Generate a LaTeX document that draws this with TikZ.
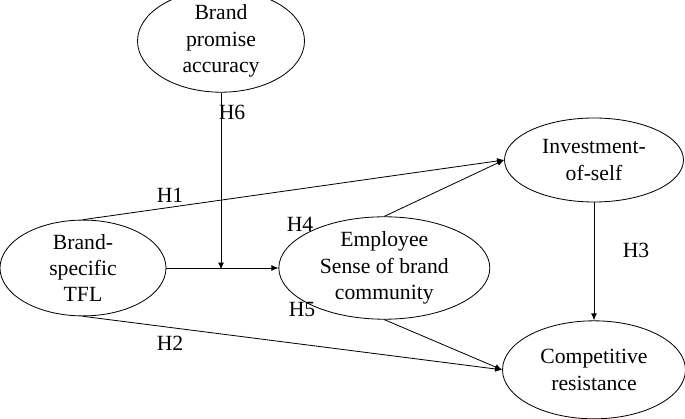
\documentclass[tikz,border=0pt]{standalone}
\usepackage{fontspec}
\setmainfont{Liberation Serif}
\usetikzlibrary{arrows.meta,positioning,shapes.geometric}

\begin{document}
\begin{tikzpicture}[>={Latex[length=6pt,width=5pt]},line width=0.7pt,font=\fontsize{18.5}{22.5}\selectfont]
    \useasboundingbox (0,0) rectangle (20.55,-12.57);
    \node[draw,ellipse,inner sep=0pt,align=center,minimum width=4.98cm,minimum height=2.55cm] (tfl) at (2.49,-8.04) {Brand-\\specific\\TFL};
    \node[draw,ellipse,inner sep=0pt,align=center,right=3.36cm of tfl,minimum width=6.33cm,minimum height=2.91cm] (esbc) {Employee\\Sense of brand\\community};
    \node[draw,ellipse,inner sep=0pt,align=center,minimum width=5.01cm,minimum height=2.49cm] (bpa) at (6.63,-1.23) {Brand\\promise\\accuracy};
    \node[draw,ellipse,inner sep=0pt,align=center,minimum width=5.37cm,minimum height=2.52cm] (ios) at (17.82,-4.8) {Investment-\\of-self};
    \node[draw,ellipse,inner sep=0pt,align=center,below=3.54cm of ios,minimum width=5.49cm,minimum height=2.94cm] (cr) {Competitive\\resistance};
    \path (bpa.south) ++(0,-5.31) coordinate (mod);
    \draw[->] (tfl)--(esbc); \draw[->] (bpa.south)--(mod);
    \draw[->] (tfl.north)--(ios.west); \draw[->] (tfl.south)--(cr.west);
    \draw[->] (esbc.north)--(ios.west); \draw[->] (esbc.south)--(cr.west);
    \draw[->] (ios)--(cr);
    \node (h1) at (5.1,-5.85) {H1};
    \node (h2) at (5.1,-10.29) {H2};
    \node (h3) at (19.08,-7.5) {H3};
    \node (h4) at (9.0,-6.72) {H4};
    \node (h5) at (9.06,-9.3) {H5};
    \node (h6) at (6.96,-3.36) {H6};
  \end{tikzpicture}
\end{document}
